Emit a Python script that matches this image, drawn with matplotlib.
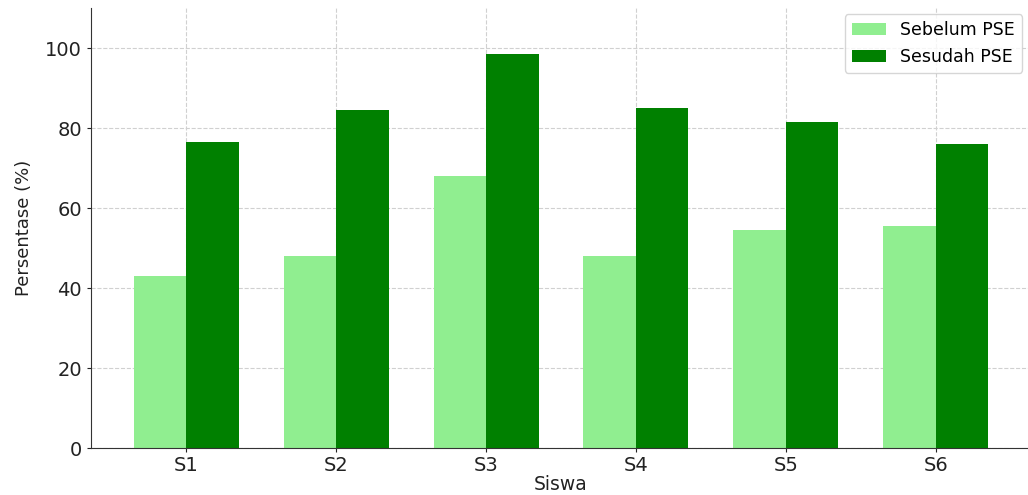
import numpy as np
import matplotlib
matplotlib.use('Agg')
import matplotlib.pyplot as plt

# Data persentase per siswa
siswa = ['S1', 'S2', 'S3', 'S4', 'S5', 'S6']
sebelum_pse = [43, 48, 68, 48, 54.4, 55.5]
sesudah_pse = [76.4, 84.4, 98.4, 85, 81.4, 76]

x = np.arange(len(siswa))
lebar = 0.35

fig = plt.figure(figsize=(10.28, 4.95), dpi=100)
ax = fig.add_axes([91 / 1028, 47 / 495, 940 / 1028, 440 / 495])

ax.bar(x - lebar / 2, sebelum_pse, lebar, color='lightgreen', label='Sebelum PSE', zorder=2)
ax.bar(x + lebar / 2, sesudah_pse, lebar, color='green', label='Sesudah PSE', zorder=2)

ax.set_xticks(x)
ax.set_xticklabels(siswa)
ax.set_xlim(-0.635, 5.635)
ax.set_ylim(0, 110)
ax.set_yticks([0, 20, 40, 60, 80, 100])
ax.tick_params(labelsize=14, colors='#222222', length=3)
ax.tick_params(axis='x', pad=2.5)

ax.set_xlabel('Siswa', fontsize=13.5, color='#222222', labelpad=0)
ax.set_ylabel('Persentase (%)', fontsize=13, color='#222222', labelpad=9)

ax.grid(True, linestyle='--', color='#d0d0d0', linewidth=0.8, zorder=0)
ax.set_axisbelow(True)
ax.spines['top'].set_visible(False)
ax.spines['right'].set_visible(False)
ax.spines['left'].set_color('#333333')
ax.spines['bottom'].set_color('#333333')

ax.legend(loc='upper right', fontsize=12.5, borderaxespad=0,
          bbox_to_anchor=(0.9904, 0.986))

fig.savefig('out.png', dpi=100)
